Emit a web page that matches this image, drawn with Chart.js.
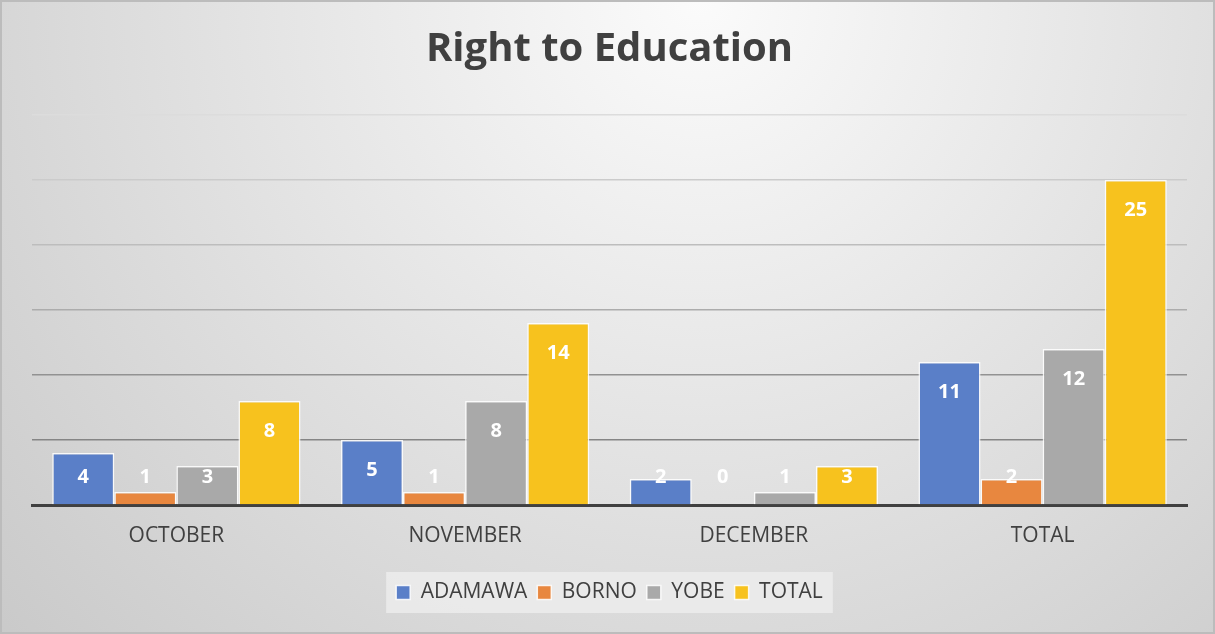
<!DOCTYPE html>
<html>
<head>
<meta charset="utf-8">
<script src="https://cdn.jsdelivr.net/npm/chart.js@4.4.1/dist/chart.umd.min.js"></script>
<style>
  html, body { margin: 0; padding: 0; background: #d9d9d9; }
  #wrap { width: 1215px; height: 634px; position: relative; }
</style>
</head>
<body>
<div id="wrap"><canvas id="chart"></canvas></div>
<script>
const months = ["OCTOBER", "NOVEMBER", "DECEMBER", "TOTAL"];
const adamawa = [4, 5, 2, 11];
const borno = [1, 1, 0, 2];
const yobe = [3, 8, 1, 12];
const total = [8, 14, 3, 25];
const yTicks = [0, 5, 10, 15, 20, 25, 30];

const gridColors = { 5: "#858585", 10: "#929292", 15: "#acacac", 20: "#bdbdbd", 25: "#cbcbcb", 30: "#dcdcdc" };

// fond dégradé façon Excel
const background = {
  id: "background",
  beforeDraw(chart) {
    const { ctx, width, height } = chart;
    const g = ctx.createRadialGradient(700, 0, 0, 700, 0, 1050);
    g.addColorStop(0, "#fbfbfb");
    g.addColorStop(1, "#c4c4c4");
    ctx.save();
    ctx.fillStyle = g;
    ctx.fillRect(0, 0, width, height);
    ctx.strokeStyle = "#bcbcbc";
    ctx.lineWidth = 2;
    ctx.strokeRect(1, 1, width - 2, height - 2);
    // cadre de la légende
    const boxes = chart.legend.legendHitBoxes;
    if (boxes && boxes.length) {
      const first = boxes[0], last = boxes[boxes.length - 1];
      ctx.fillStyle = "rgba(235,235,235,0.9)";
      ctx.fillRect(first.left - 10, first.top - 10, last.left + last.width - first.left + 20, first.height + 20);
    }
    ctx.restore();
  }
};

// étiquettes de valeur à l'intérieur, en haut de la barre
const valueLabels = {
  id: "valueLabels",
  afterDatasetsDraw(chart) {
    const { ctx } = chart;
    const base = chart.scales.y.getPixelForValue(0);
    ctx.save();
    ctx.font = "bold 20px 'Open Sans'";
    ctx.fillStyle = "#ffffff";
    ctx.textAlign = "center";
    ctx.textBaseline = "middle";
    chart.data.datasets.forEach((ds, i) => {
      chart.getDatasetMeta(i).data.forEach((bar, j) => {
        const y = Math.min(bar.y + 30, base - 28);
        ctx.fillText(String(ds.data[j]), bar.x, y);
      });
    });
    ctx.restore();
  }
};

new Chart(document.getElementById("chart"), {
  type: "bar",
  data: {
    labels: months,
    datasets: [
      { label: "ADAMAWA", data: adamawa, backgroundColor: "#5A7FC8" },
      { label: "BORNO", data: borno, backgroundColor: "#E8873F" },
      { label: "YOBE", data: yobe, backgroundColor: "#A9A9A9" },
      { label: "TOTAL", data: total, backgroundColor: "#F7C21E" }
    ]
  },
  options: {
    responsive: true,
    maintainAspectRatio: false,
    animation: false,
    layout: { padding: { left: 32, right: 28, top: 0, bottom: 21 } },
    datasets: {
      bar: {
        categoryPercentage: 0.86,
        barPercentage: 1,
        borderColor: "rgba(255,255,255,0.85)",
        borderWidth: 1.5,
        borderSkipped: "bottom"
      }
    },
    plugins: {
      title: {
        display: true,
        text: "Right to Education",
        color: "#404040",
        font: { family: "'Open Sans'", size: 40, weight: "bold" },
        padding: { top: 26, bottom: 41 }
      },
      legend: {
        position: "bottom",
        labels: {
          color: "#404040",
          font: { family: "'Open Sans'", size: 21 },
          boxWidth: 14,
          boxHeight: 14,
          padding: 10
        }
      },
      tooltip: { enabled: false }
    },
    scales: {
      x: {
        grid: { display: false, drawTicks: false },
        border: { color: "#404040", width: 3 },
        ticks: { color: "#404040", font: { family: "'Open Sans'", size: 21 }, padding: 18 },
        afterFit(scale) { scale.height = 67; }
      },
      y: {
        min: 0,
        max: 30,
        afterBuildTicks(scale) { scale.ticks = yTicks.map(v => ({ value: v })); },
        ticks: { display: false },
        border: { display: false },
        grid: {
          drawTicks: false,
          lineWidth: 1.5,
          color: (c) => gridColors[c.tick.value] || "rgba(0,0,0,0)"
        }
      }
    }
  },
  plugins: [background, valueLabels]
});
</script>
</body>
</html>
